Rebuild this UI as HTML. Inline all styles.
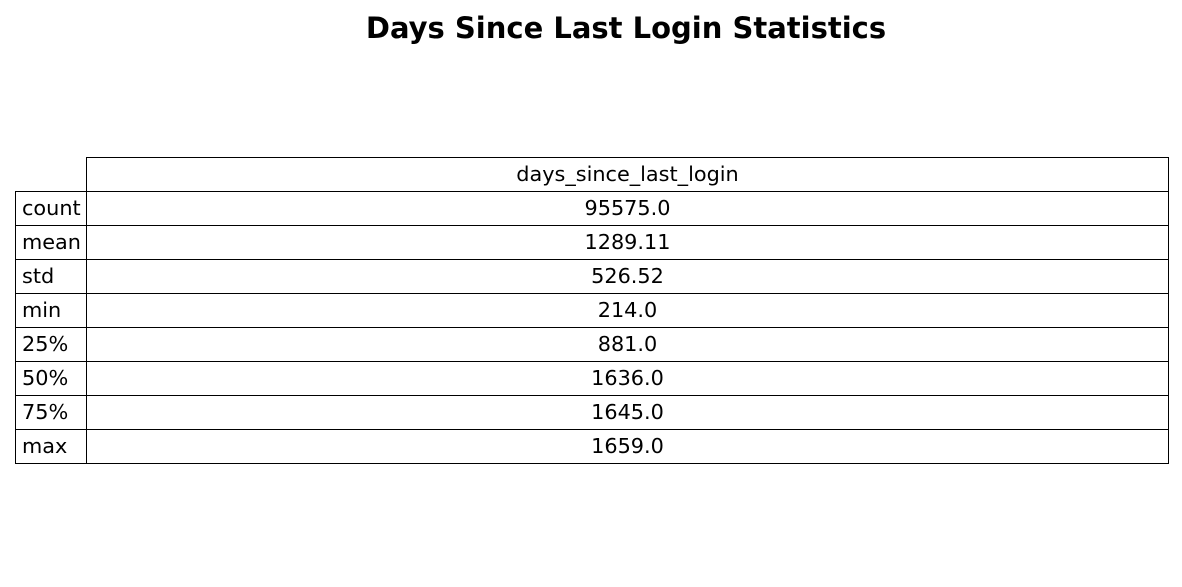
<!DOCTYPE html>
<html>
<head>
<meta charset="utf-8">
<style>
  html,body{margin:0;padding:0;background:#fff;}
  body{width:1182px;height:587px;position:relative;overflow:hidden;font-family:"DejaVu Sans","Liberation Sans",sans-serif;}
  #title{position:absolute;left:0;width:1252px;top:10px;text-align:center;font-weight:bold;font-size:29px;color:#000;line-height:36px;}
  .cell{position:absolute;box-sizing:border-box;border:1px solid #000;height:35px;font-size:20.8px;line-height:33px;color:#000;white-space:nowrap;}
  .lab{left:15px;width:72px;padding-left:6px;}
  .val{left:86px;width:1083px;text-align:center;}
</style>
</head>
<body>
<div id="title">Days Since Last Login Statistics</div>
<div id="table"></div>
<script>
const rowLabels = ["count","mean","std","min","25%","50%","75%","max"];
const values = ["95575.0","1289.11","526.52","214.0","881.0","1636.0","1645.0","1659.0"];
const header = "days_since_last_login";
const t = document.getElementById('table');
const top0 = 157, rowH = 34;
const h = document.createElement('div');
h.className = 'cell val';
h.style.top = top0 + 'px';
h.textContent = header;


t.appendChild(h);
rowLabels.forEach((lab, i) => {
  const y = top0 + rowH * (i + 1);
  const l = document.createElement('div');
  l.className = 'cell lab';
  l.style.top = y + 'px';
  l.textContent = lab;
  
  
  t.appendChild(l);
  const v = document.createElement('div');
  v.className = 'cell val';
  v.style.top = y + 'px';
  v.textContent = values[i];
  
  
  t.appendChild(v);
});
</script>
</body>
</html>
